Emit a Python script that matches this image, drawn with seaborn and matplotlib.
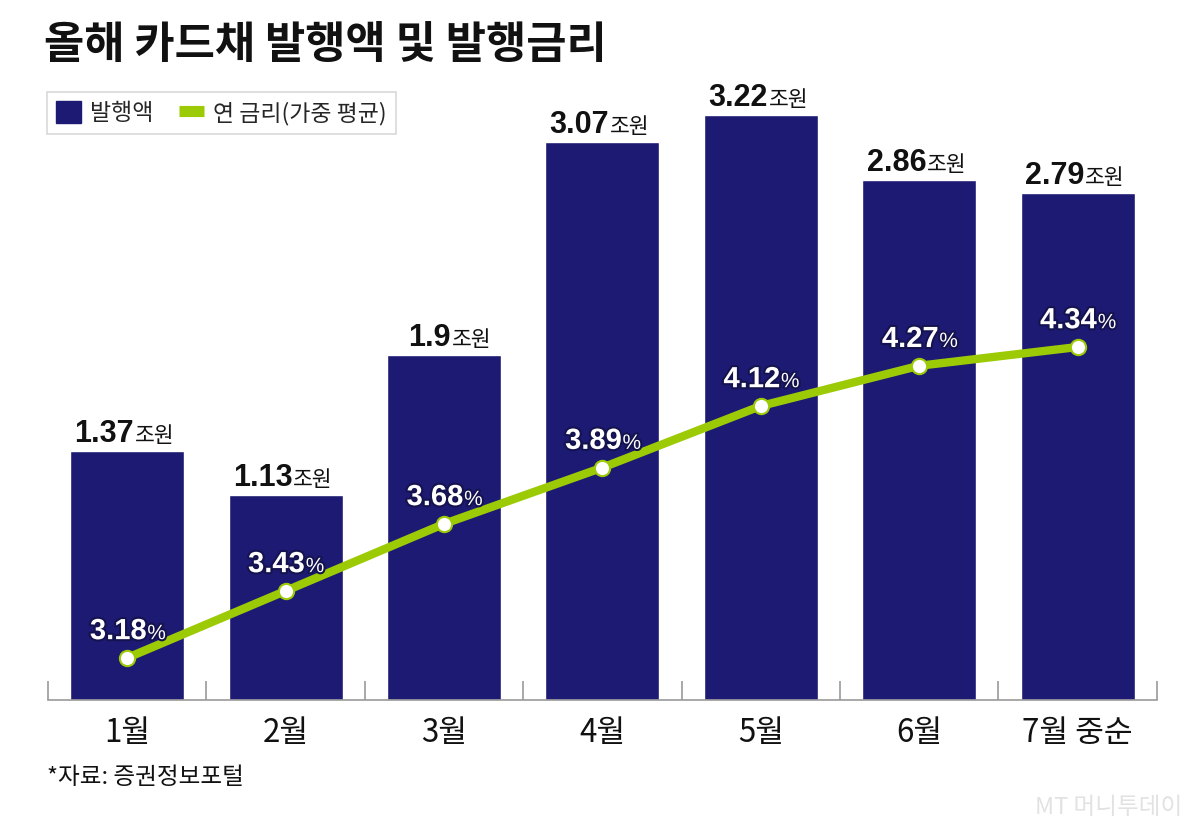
import numpy as np
import pandas as pd
import matplotlib
matplotlib.use('Agg')
import matplotlib.pyplot as plt
import matplotlib.patheffects as pe
from matplotlib.patches import Patch
from matplotlib.lines import Line2D
import seaborn as sns

months = ['1월', '2월', '3월', '4월', '5월', '6월', '7월 중순']
issued = [1.37, 1.13, 1.9, 3.07, 3.22, 2.86, 2.79]
rates = [3.18, 3.43, 3.68, 3.89, 4.12, 4.27, 4.34]

navy = '#1c1a72'
green = '#9ccb06'
grey = '#9a9a9a'

sns.set_theme(style='white')
plt.rcParams['font.family'] = ['Noto Sans CJK KR', 'DejaVu Sans']
num_font = ['Liberation Sans Narrow', 'Liberation Sans', 'DejaVu Sans']

df = pd.DataFrame({'월': months, '발행액': issued, '금리': rates})

fig = plt.figure(figsize=(12, 8.34), dpi=100)
ax = fig.add_axes([0.04, 0.1607, 0.924, 0.7433])

sns.barplot(data=df, x='월', y='발행액', color=navy, saturation=1, width=0.72, ax=ax)
ax.set_xlim(-0.5, 6.5)
ax.set_ylim(0, 3.41)
ax.set_xlabel('')
ax.set_ylabel('')
ax.set_yticks([])
for s in ['top', 'right', 'left']:
    ax.spines[s].set_visible(False)
ax.spines['bottom'].set_color(grey)
ax.spines['bottom'].set_linewidth(1.2)

# ticks between categories, labels in the middle
ax.set_xticks(np.arange(-0.5, 7, 1))
ax.set_xticklabels([])
ax.tick_params(axis='x', which='major', bottom=True, direction='in', length=14,
               color=grey, width=1.2)
ax.set_xticks(np.arange(len(months)), minor=True)
ax.set_xticklabels(months, minor=True, fontsize=22.5, color='#111111')
ax.tick_params(axis='x', which='minor', bottom=True, length=0, pad=12)

# bar labels
for i, v in enumerate(issued):
    ax.annotate(f'{v:g}', xy=(i, v), xytext=(5, 6.5), textcoords='offset points',
                ha='right', va='baseline', fontsize=22, fontweight='bold',
                family=num_font, color='#111111')
    ax.annotate('조원', xy=(i, v), xytext=(5.5, 6.5), textcoords='offset points',
                ha='left', va='baseline', fontsize=15.5, color='#111111')

# rate line
ax2 = ax.twinx()
sns.lineplot(x=np.arange(len(rates)), y=rates, color=green, linewidth=6, ax=ax2,
             marker='o', markersize=11, markerfacecolor='white',
             markeredgecolor=green, markeredgewidth=1.5)
ax2.set_ylim(3.023, 5.336)
ax2.set_xlim(-0.5, 6.5)
ax2.set_yticks([])
ax2.set_ylabel('')
for s in ['top', 'right', 'left', 'bottom']:
    ax2.spines[s].set_visible(False)

stroke = [pe.withStroke(linewidth=3, foreground='#15134f')]
for i, r in enumerate(rates):
    ax2.annotate(f'{r:.2f}', xy=(i, r), xytext=(14, 13.5), textcoords='offset points',
                 ha='right', va='baseline', fontsize=21, fontweight='bold',
                 family=num_font, color='white', path_effects=stroke)
    ax2.annotate('%', xy=(i, r), xytext=(14.5, 13.5), textcoords='offset points',
                 ha='left', va='baseline', fontsize=15,
                 family=num_font, color='white', path_effects=stroke)

# legend
handles = [Patch(facecolor=navy, edgecolor=navy, label='발행액'),
           Line2D([], [], color=green, linewidth=8, solid_capstyle='butt',
                  label='연 금리(가중 평균)')]
leg = fig.legend(handles=handles, loc='upper left', bbox_to_anchor=(0.039, 1 - 92 / 834),
                 ncol=2, fontsize=16.5, frameon=True, fancybox=False, edgecolor='#cfcfcf',
                 handlelength=1.1, handleheight=1.1, handletextpad=0.4,
                 columnspacing=1.1, borderpad=0.4, borderaxespad=0)
leg.get_frame().set_linewidth(1.2)

fig.text(0.037, 1 - 45 / 834, '올해 카드채 발행액 및 발행금리', fontsize=31.5,
         fontweight='bold', va='center', ha='left', color='#111111')
fig.text(0.039, 1 - 778 / 834, '*자료: 증권정보포털', fontsize=17,
         va='center', ha='left', color='#111111')
fig.text(0.985, 1 - 808 / 834, 'MT 머니투데이', fontsize=17, va='center', ha='right',
         color='#e2e2e2')

fig.savefig('out.png', dpi=100)
